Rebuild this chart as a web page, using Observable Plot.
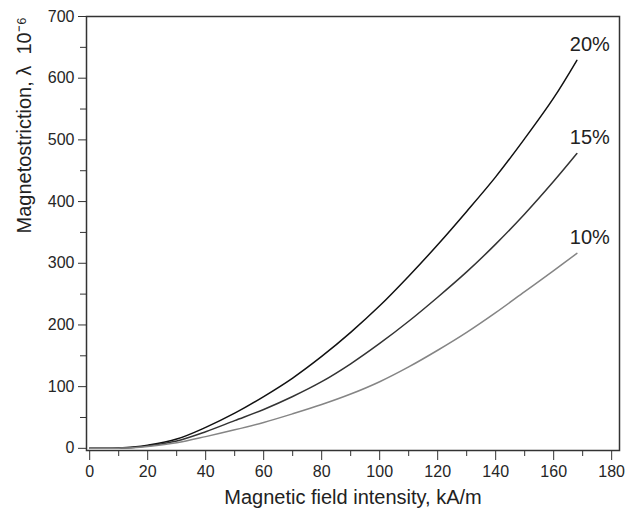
<!DOCTYPE html>
<html><head><meta charset="utf-8">
<script src="https://cdn.jsdelivr.net/npm/d3@7"></script>
<script src="https://cdn.jsdelivr.net/npm/@observablehq/plot@0.6"></script>
<style>
body{margin:0;background:#fff}
#chart{width:637px;height:521px}
</style>
</head><body><div id="chart"></div>
<script>
// Magnetic field intensity (kA/m)
const fieldH = [0, 5, 10, 15, 20, 30, 40, 50, 60, 70, 80, 90, 100, 110, 120, 130, 140, 150, 160, 168];
// Magnetostriction (x 10^-6) per series
const lambda20 = [0, 0, 0.5, 2, 5, 15, 34, 57, 84, 114, 149, 188, 231, 279, 330, 384, 440, 502, 568, 629];
const lambda15 = [0, 0, 0.5, 1.5, 4, 12, 27, 45, 63, 84, 108, 137, 170, 206, 245, 286, 331, 380, 433, 478];
const lambda10 = [0, 0, 0.3, 1, 3, 9, 19, 30, 42, 56, 71, 88, 108, 132, 159, 188, 220, 254, 288, 316];
const seriesNames = ["20%", "15%", "10%"];
const seriesColors = ["#111111", "#333333", "#858585"];
const yMajor = [0, 100, 200, 300, 400, 500, 600, 700];
const yMinor = [50, 150, 250, 350, 450, 550, 650];
const xMajor = [0, 20, 40, 60, 80, 100, 120, 140, 160, 180];
const xMinor = [10, 30, 50, 70, 90, 110, 130, 150, 170];
const xTitle = "Magnetic field intensity, kA/m";
const yTitle = "Magnetostriction, λ  10⁻⁶";

const allSeries = [lambda20, lambda15, lambda10];
const rows = [];
allSeries.forEach((vals, i) => vals.forEach((v, j) => rows.push({h: fieldH[j], v, s: seriesNames[i]})));
const ends = allSeries.map((vals, i) => ({h: fieldH[fieldH.length - 1], v: vals[vals.length - 1], s: seriesNames[i]}));

const font = "'Liberation Sans', Arial, Helvetica, sans-serif";
const chart = Plot.plot({
  width: 637,
  height: 521,
  marginLeft: 86,
  marginRight: 18,
  marginTop: 16,
  marginBottom: 71,
  style: {fontFamily: font, fontSize: "16px", color: "#262626", background: "#fff"},
  x: {domain: [-1.1, 182.7]},
  y: {domain: [-3.5, 700]},
  color: {domain: seriesNames, range: seriesColors},
  marks: [
    Plot.axisY(yMajor, {tickSize: 8, tickPadding: 4, label: null, stroke: "#333", fontSize: 16}),
    Plot.axisY(yMinor, {tickSize: 6, tickFormat: () => "", label: null, stroke: "#333"}),
    Plot.axisX(xMajor, {tickSize: 10, tickPadding: 5, label: null, stroke: "#333", fontSize: 16}),
    Plot.axisX(xMinor, {tickSize: 6, tickFormat: () => "", label: null, stroke: "#333"}),
    Plot.line(rows, {x: "h", y: "v", z: "s", stroke: "s", strokeWidth: 1.5, curve: "catmull-rom"}),
    Plot.text(ends, {x: "h", y: "v", text: "s", dx: 13, dy: -16, fontSize: 20, fill: "#222"}),
    Plot.text([xTitle], {frameAnchor: "bottom", dy: 53, fontSize: 20, fill: "#222"}),
    Plot.text([yTitle], {frameAnchor: "left", dx: -62, rotate: -90, fontSize: 20, fill: "#222"}),
    Plot.frame({stroke: "#333", strokeWidth: 1.5})
  ]
});
document.getElementById("chart").append(chart);
</script>
</body></html>
